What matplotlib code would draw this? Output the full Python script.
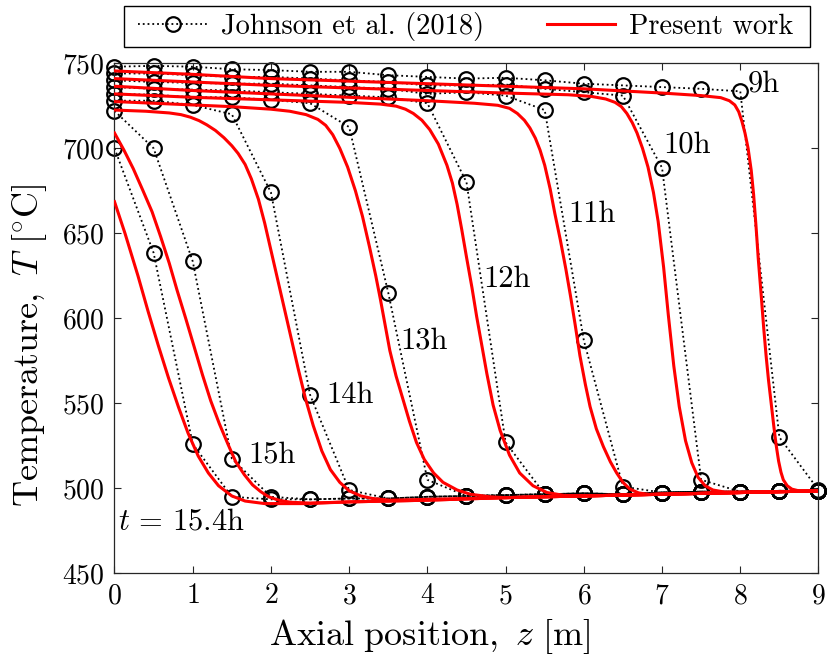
import matplotlib
matplotlib.use("Agg")
import matplotlib.pyplot as plt
from matplotlib.patches import Rectangle

plt.rcParams.update({
    "font.family": "serif",
    "font.serif": ["cmr10"],
    "mathtext.fontset": "cm",
    "axes.formatter.use_mathtext": True,
})

# ---- Johnson et al. (2018): sampled every 0.5 m ----
z_ref = [0, 0.5, 1, 1.5, 2, 2.5, 3, 3.5, 4, 4.5, 5, 5.5, 6, 6.5, 7, 7.5, 8, 8.5, 9]

T_ref_9h = [748, 748.5, 748, 746.5, 746, 745, 745, 743, 742, 741, 741.5, 740, 738, 737, 736, 735, 733.5, 530, 499]
T_ref_10h = [744, 744, 743, 742, 742, 741, 740, 739, 737, 737, 737.5, 735, 733, 731, 688.5, 505, 498, 498.5, 498.5]
T_ref_11h = [740, 739, 738.5, 738, 738, 737, 736, 735, 732, 733, 731, 722.5, 587, 501, 497.5, 498, 498, 498.5, 498.5]
T_ref_12h = [736, 735, 734.5, 734, 733, 732, 731, 730, 726.5, 680, 527, 496.5, 497, 496.5, 497.5, 498, 498, 498.5, 498.5]
T_ref_13h = [732, 731.5, 730, 730, 728.5, 726.5, 712.5, 615, 505, 495.5, 496, 496.5, 497, 496.5, 497.5, 498, 498, 498.5, 498.5]
T_ref_14h = [728, 728, 725.5, 720, 674, 555, 499, 494, 495, 495.5, 496, 496.5, 497, 496.5, 497.5, 498, 498, 498.5, 498.5]
T_ref_15h = [722, 700, 633.5, 517.5, 495, 493.5, 494, 494, 495, 495.5, 496, 496.5, 497, 496.5, 497.5, 498, 498, 498.5, 498.5]
T_ref_154h = [700, 638.5, 526, 495, 493.5, 493.5, 494, 494, 495, 495.5, 496, 496.5, 497, 496.5, 497.5, 498, 498, 498.5, 498.5]

# ---- Present work: temperature profiles ----
z_9h = [0, 1, 2, 3, 4, 5, 6, 7, 7.5, 7.75, 7.86, 7.93, 7.98, 8.02, 8.06, 8.1, 8.14, 8.17, 8.2, 8.23, 8.27, 8.3, 8.33, 8.36, 8.4, 8.43, 8.46, 8.49, 8.52, 8.55, 8.6, 8.66, 8.75, 8.85, 9.0]
T_9h = [745.5, 743.5, 741, 739.5, 738, 736.5, 735, 732.5, 731, 729.8, 728, 725.5, 721.5, 716, 709, 700, 687, 673, 655, 635, 612, 594, 578, 564, 548, 536, 525, 516, 509.5, 505, 501.5, 499.5, 498.5, 498.3, 498.5]

z_10h = [0, 1, 2, 3, 4, 5, 5.8, 6.1, 6.28, 6.4, 6.48, 6.55, 6.62, 6.68, 6.75, 6.82, 6.89, 6.95, 7.02, 7.08, 7.15, 7.22, 7.3, 7.38, 7.46, 7.55, 7.65, 7.8, 8.5, 9.0]
T_10h = [741, 739, 737, 735.5, 734, 732.5, 731.5, 730.5, 729, 727, 724.5, 720.5, 715, 709, 700, 689, 674, 657, 630, 602, 572, 548, 528, 515, 506.5, 501.5, 499, 497.8, 498, 498.5]

z_11h = [0, 1, 2, 3, 4, 4.6, 4.9, 5.05, 5.15, 5.24, 5.31, 5.38, 5.44, 5.5, 5.57, 5.63, 5.7, 5.77, 5.83, 5.89, 5.95, 6.02, 6.08, 6.16, 6.25, 6.34, 6.42, 6.5, 6.59, 6.7, 6.85, 7, 8, 9]
T_11h = [736.5, 734, 732, 730, 728, 726.5, 725.3, 723.5, 720.5, 716.5, 712, 706, 699, 690, 676, 661.5, 646, 629, 613, 596, 578, 561, 548, 535, 524.5, 515.5, 509, 503.5, 499.5, 497.3, 496.3, 496.5, 497.5, 498.5]

z_12h = [0, 1, 2, 3, 3.4, 3.6, 3.72, 3.82, 3.93, 4.03, 4.14, 4.25, 4.32, 4.38, 4.44, 4.5, 4.57, 4.63, 4.7, 4.76, 4.84, 4.93, 5.05, 5.18, 5.35, 5.53, 5.75, 6, 7, 8, 9]
T_12h = [732, 730, 728.5, 727, 726, 724.8, 723, 720.5, 716.5, 711, 702.5, 690, 679.5, 667, 652, 636, 618, 601, 583, 567.5, 549, 534, 519.5, 509, 501.5, 497.5, 495.8, 495.5, 496.5, 497.5, 498.5]

z_13h = [0, 1, 1.5, 2, 2.24, 2.45, 2.6, 2.7, 2.79, 2.88, 2.98, 3.08, 3.17, 3.26, 3.34, 3.4, 3.46, 3.52, 3.6, 3.69, 3.77, 3.86, 3.96, 4.08, 4.2, 4.38, 4.55, 4.8, 5, 6, 7, 8, 9]
T_13h = [727.5, 725.5, 724.5, 723, 721.8, 719.8, 717, 713.5, 708, 700, 689, 675, 660, 642, 625, 611, 596, 581, 566, 552, 539.5, 527, 517, 509, 503.5, 499, 496.5, 495, 494.5, 495.5, 496.5, 497.5, 498.5]

z_14h = [0, 0.4, 0.7, 0.85, 0.97, 1.08, 1.18, 1.29, 1.4, 1.5, 1.58, 1.67, 1.75, 1.84, 1.92, 2.0, 2.09, 2.18, 2.27, 2.35, 2.44, 2.54, 2.65, 2.76, 2.88, 3.0, 3.15, 3.3, 3.52, 4, 5, 6, 7, 8, 9]
T_14h = [722.5, 721.8, 720.8, 719.8, 718.3, 716.3, 713.8, 710.5, 706.2, 701.5, 697, 690.5, 682, 670, 656, 640, 622, 604, 586, 570, 553, 537, 522, 511, 503.5, 498.5, 495.5, 494, 493, 493.5, 494.5, 495.5, 496.5, 497.5, 498.5]

z_15h = [0, 0.12, 0.24, 0.36, 0.48, 0.59, 0.7, 0.8, 0.91, 1.02, 1.125, 1.23, 1.34, 1.45, 1.55, 1.66, 1.765, 1.87, 1.97, 2.1, 2.25, 2.5, 3, 4, 5, 6, 7, 8, 9]
T_15h = [709, 699, 688, 675.5, 662.7, 648, 632.4, 616.5, 600, 583, 566.7, 551.5, 538, 526, 515.6, 508, 502, 498, 495, 493, 491.8, 491.3, 492, 493, 494.5, 495.5, 496.5, 497.5, 498.5]

z_154h = [0, 0.134, 0.3, 0.43, 0.56, 0.69, 0.82, 0.94, 1.07, 1.2, 1.33, 1.5, 1.67, 1.92, 2.44, 3, 4, 5, 6, 7, 8, 9]
T_154h = [668.6, 650, 625, 604, 584, 565, 547.5, 532.5, 519, 509, 501.5, 495.5, 492.5, 491, 491, 492, 493, 494.5, 495.5, 496.5, 497.5, 498.5]

ref_series = [T_ref_9h, T_ref_10h, T_ref_11h, T_ref_12h, T_ref_13h, T_ref_14h, T_ref_15h, T_ref_154h]
model_series = [(z_9h, T_9h), (z_10h, T_10h), (z_11h, T_11h), (z_12h, T_12h),
                (z_13h, T_13h), (z_14h, T_14h), (z_15h, T_15h), (z_154h, T_154h)]

time_labels = ["9h", "10h", "11h", "12h", "13h", "14h", "15h", r"$t\,=\,15.4$h"]
label_pos = [(8.10, 733.3), (7.01, 697.6), (5.80, 656.8), (4.71, 618.6),
             (3.66, 582.4), (2.71, 550.2), (1.71, 514.9), (0.04, 475.5)]

W, H = 828, 663
fig = plt.figure(figsize=(W / 100, H / 100), dpi=100)
ax = fig.add_axes([114.5 / W, 1 - 573.3 / H, (818.5 - 114.5) / W, (573.3 - 63.3) / H])

for i, T in enumerate(ref_series):
    ax.plot(z_ref, T, ls=":", color="k", lw=1.3, marker="o", ms=10.5,
            mfc="none", mec="k", mew=1.6, zorder=2, clip_on=False,
            label="Johnson et al. (2018)" if i == 0 else None)

for i, (z, T) in enumerate(model_series):
    ax.plot(z, T, color="#ff0000", lw=2.2, zorder=3,
            label="Present work" if i == 0 else None)

for lab, (zx, ty) in zip(time_labels, label_pos):
    ax.text(zx, ty, lab, fontsize=22, ha="left", va="baseline", zorder=4)

ax.set_xlim(0, 9)
ax.set_ylim(450, 750)
ax.set_xticks(range(0, 10))
ax.set_yticks(range(450, 751, 50))
ax.tick_params(direction="in", top=True, right=True, length=5, width=0.8,
               labelsize=20, pad=7, colors="#262626", labelcolor="k")
for s in ax.spines.values():
    s.set_linewidth(0.9)
    s.set_color("#262626")

fig.text(430 / W, 1 - 636 / H, r"$\mathrm{Axial\ position,}\ z\ [\mathrm{m}]$",
         fontsize=26, ha="center", va="center")
fig.text(30 / W, 1 - 345 / H, r"$\mathrm{Temperature,}\ T\ [^{\circ}\mathrm{C}]$",
         fontsize=26, ha="center", va="center", rotation=90)

# legend above the axes with a square black frame
fig.patches.append(Rectangle((124 / W, 1 - 47 / H), (810 - 124) / W, 41 / H,
                             transform=fig.transFigure, fill=False,
                             edgecolor="k", lw=1.0))
leg = ax.legend(loc="center", bbox_to_anchor=(466 / W, 1 - 26.5 / H),
                bbox_transform=fig.transFigure, ncol=2, frameon=False,
                fontsize=20.5, handlelength=2.4, handletextpad=0.5,
                columnspacing=2.2, numpoints=1)

fig.savefig("out.png", dpi=100)
